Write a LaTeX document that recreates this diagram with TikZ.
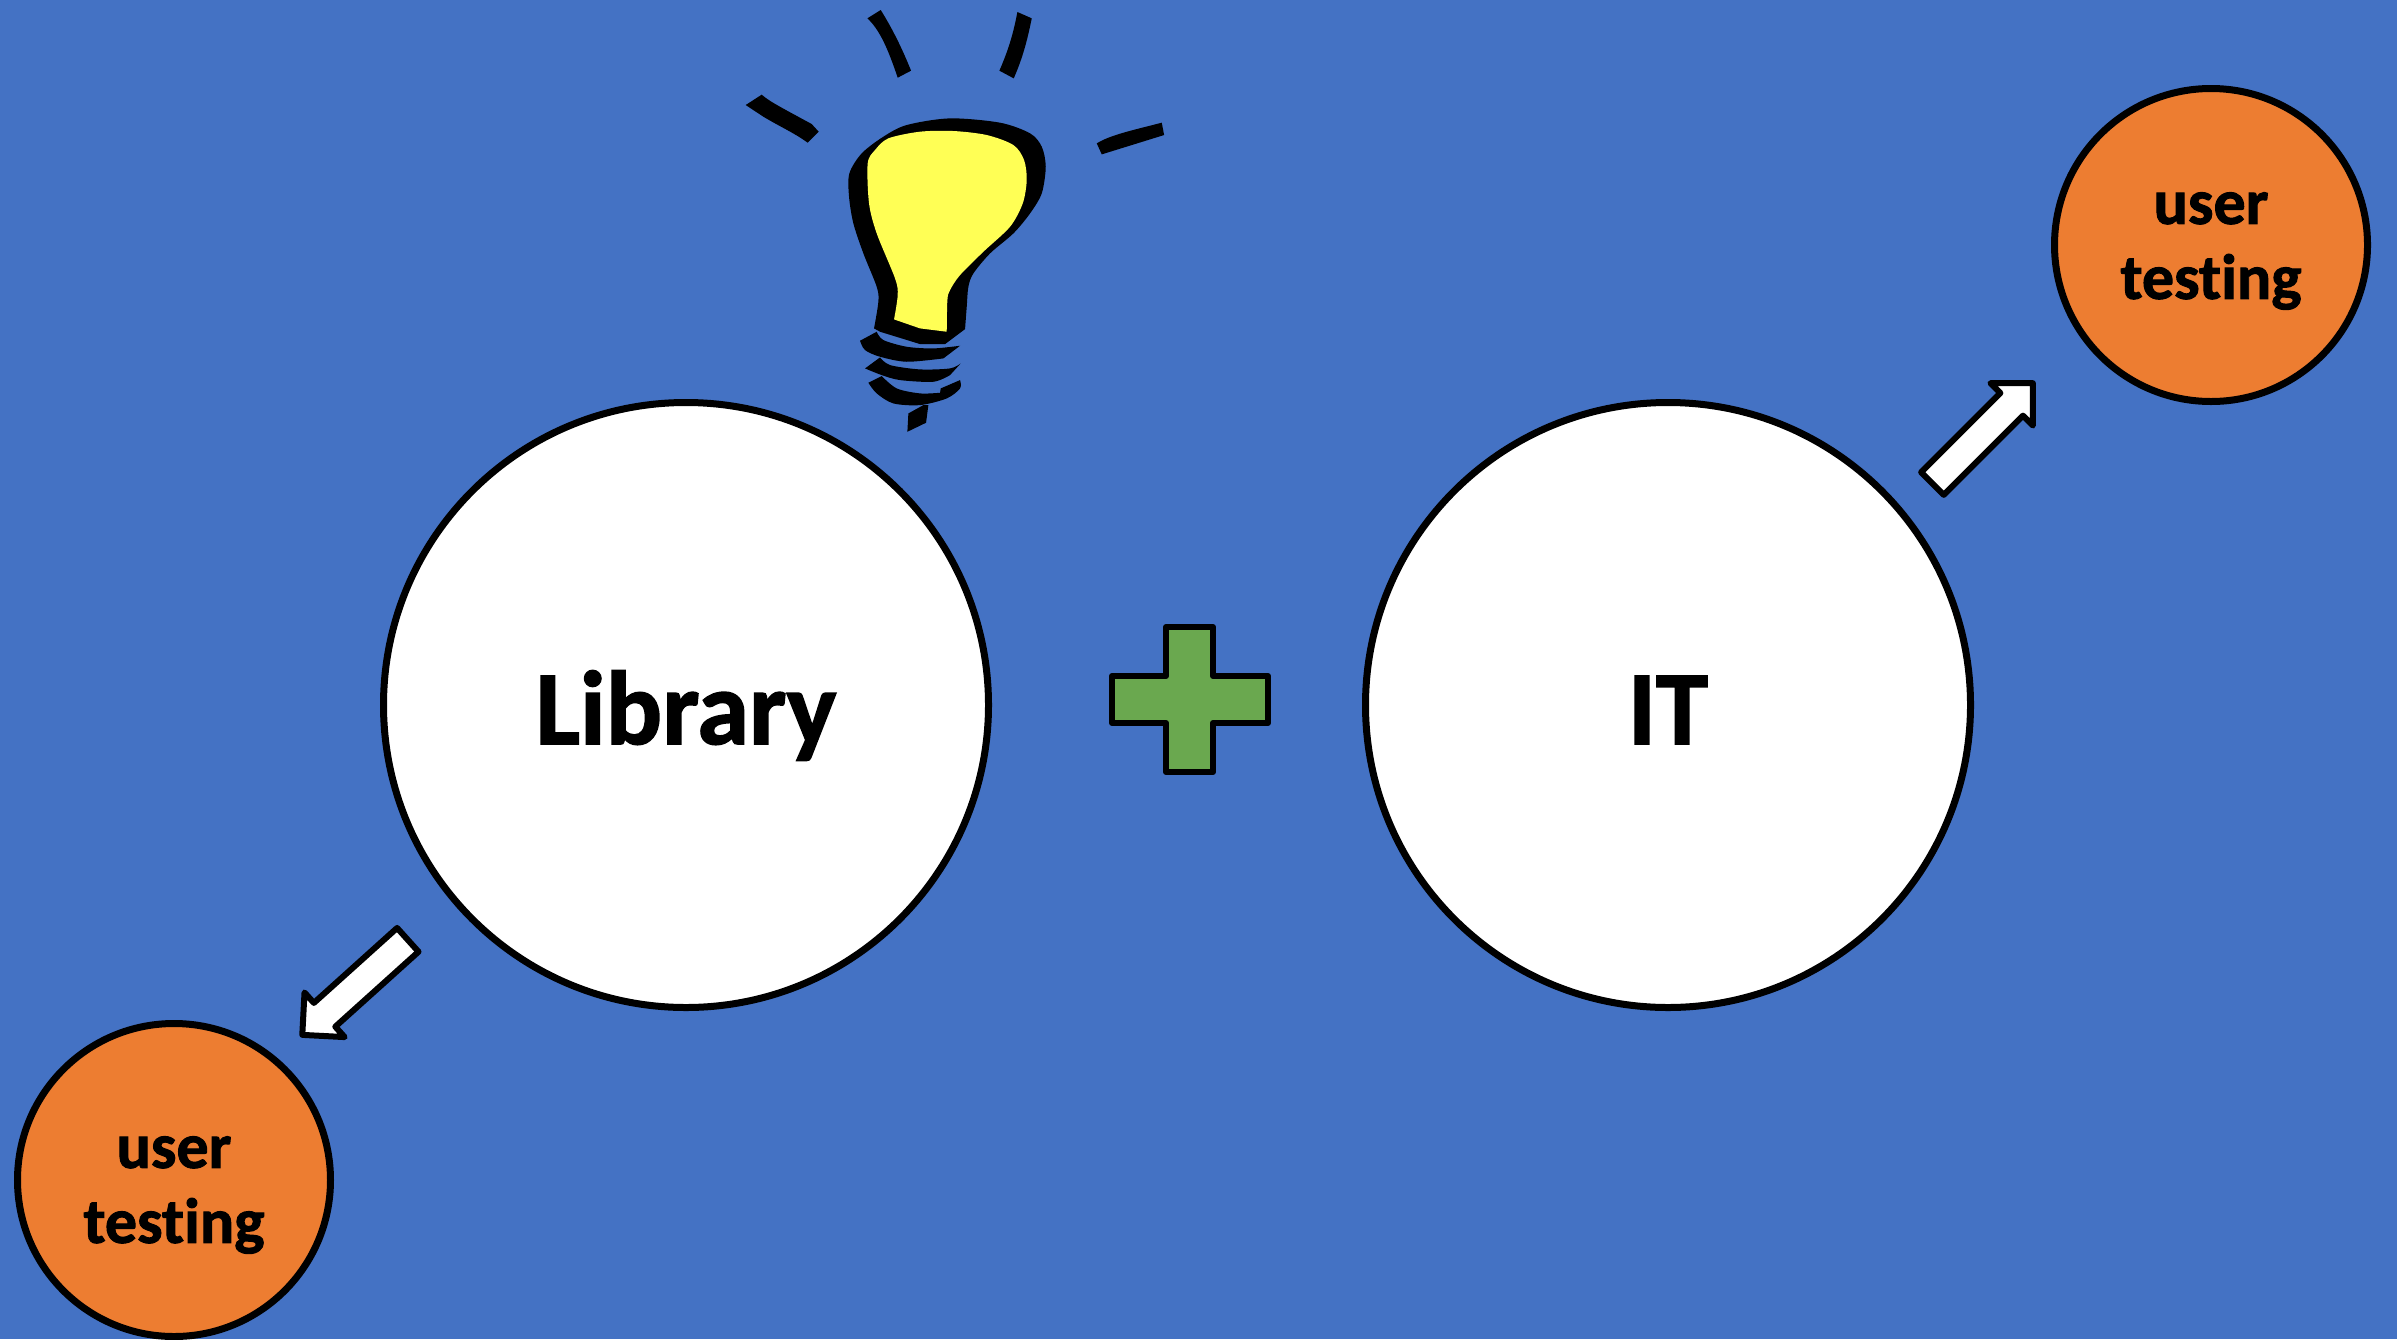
\documentclass[tikz,border=0pt]{standalone}
\usepackage{fontspec}
\setmainfont[Ligatures = NoCommon, BoldFeatures = {FakeBold = 1.5}]{Carlito}
\usetikzlibrary{shapes.arrows}
\definecolor{slide}{HTML}{4472C4}
\definecolor{tester}{HTML}{ED7D31}
\definecolor{joiner}{HTML}{6AA84F}
\definecolor{glow}{HTML}{FFFF55}
\tikzset{team/.style = {shape = circle, draw = black, fill = white, line width = 3.5pt, minimum size = 302.5pt, inner sep = 0pt, text height = 52pt, text depth = 13pt, font = \fontsize{52.5}{56}\selectfont\bfseries}}
\tikzset{usertest/.style = {shape = circle, draw = black, fill = tester, line width = 3.5pt, minimum size = 156.5pt}}
\tikzset{testlabel/.style = {align = center, inner sep = 0pt, font = \fontsize{32}{37.5}\selectfont\bfseries}}
\tikzset{blockarrow/.style = {shape = single arrow, draw = black, fill = white, line width = 3pt, line join = round, inner xsep = 0pt, inner ysep = 6.5pt, minimum height = 71pt, minimum width = 27.5pt, single arrow head extend = 7pt, single arrow tip angle = 90}}
\tikzset{ink/.style = {fill = black}}

\begin{document}
\begin{tikzpicture}[x = 0.5pt, y = -0.5pt]
	\fill[slide] (0, 0) rectangle (2397, 1339);
	\useasboundingbox (0, 0) rectangle (2397, 1339);

	\node[team] (library) at (686, 705) {Library};
	\node[team] (it) at (1668, 705) {IT};
	\node[usertest] (testright) at (2211, 245) {};
	\node[usertest] (testleft) at (174, 1180) {};
	\node[testlabel] (righttext) at (2211, 251) {user\\testing};
	\node[testlabel] (lefttext) at (174, 1195) {user\\testing};

	\node[blockarrow, rotate = 45] (arrowright) at (1977, 439) {};
	\node[blockarrow, rotate = 222] (arrowleft) at (361, 982) {};

	\draw[fill = joiner, line width = 3pt, line join = round] (1166, 627) -- (1213, 627) -- (1213, 676) -- (1268, 676) -- (1268, 723) -- (1213, 723) -- (1213, 772) -- (1166, 772) -- (1166, 723) -- (1112, 723) -- (1112, 676) -- (1166, 676) -- cycle;

	% bulb, in crop coordinates
	\begin{scope}[shift = {(720, 0)}, x = 0.1667pt, y = -0.1667pt]
		% rays
		\fill[ink] (77, 315) -- (125, 284) .. controls (150, 305) and (170, 315) .. (275, 372) -- (296, 395) -- (263, 428) .. controls (225, 400) and (180, 380) .. (130, 350) -- cycle;
		\fill[ink] (442, 55) -- (482, 30) .. controls (510, 75) and (540, 130) .. (573, 212) -- (533, 233) .. controls (505, 150) and (480, 90) .. (442, 55) -- cycle;
		\fill[ink] (892, 36) -- (935, 55) .. controls (920, 130) and (905, 180) .. (881, 235) -- (838, 212) .. controls (865, 150) and (880, 100) .. (892, 36) -- cycle;
		\fill[ink] (1130, 430) .. controls (1170, 405) and (1240, 390) .. (1325, 368) -- (1332, 405) -- (1145, 463) -- cycle;
		% glass
		\fill[ink] plot[smooth, tension = 0.5] coordinates {(462, 985) (475, 905) (470, 860) (430, 760) (400, 670) (387, 590) (388, 520) (425, 460) (490, 410) (560, 375) (690, 355) (840, 368) (930, 400) (965, 440) (977, 500) (965, 580) (930, 640) (880, 700) (810, 760) (760, 820) (745, 860) (740, 920) (735, 987)} -- (675, 1032) -- (600, 1032) -- (480, 995) -- cycle;
		\fill[glow] plot[smooth, tension = 0.5] coordinates {(522, 958) (533, 885) (525, 835) (470, 700) (447, 610) (443, 490) (465, 450) (505, 415) (600, 395) (700, 393) (800, 405) (880, 435) (912, 480) (920, 540) (908, 610) (870, 680) (790, 755) (720, 825) (690, 870) (682, 900) (680, 995)} -- (600, 985) -- cycle;
		% thread
		\fill[ink] plot[smooth, tension = 0.5] coordinates {(470, 995) (490, 1020) (560, 1040) (640, 1045) (720, 1037)} -- plot[smooth, tension = 0.5] coordinates {(670, 1075) (560, 1085) (480, 1070) (435, 1050) (420, 1022)} -- cycle;
		\fill[ink] plot[smooth, tension = 0.5] coordinates {(480, 1072) (510, 1095) (600, 1108) (690, 1105) (722, 1090)} -- plot[smooth, tension = 0.5] coordinates {(690, 1125) (640, 1145) (540, 1140) (485, 1125) (435, 1105)} -- cycle;
		\fill[ink] plot[smooth, tension = 0.5] coordinates {(485, 1128) (530, 1165) (600, 1180) (660, 1178)} -- (662, 1165) -- plot[smooth, tension = 0.5] coordinates {(720, 1140) (720, 1165) (680, 1195) (600, 1215) (520, 1210) (470, 1180) (445, 1148)} -- cycle;
		\fill[ink] (565, 1240) -- (610, 1215) -- (625, 1215) -- (618, 1268) -- (562, 1295) -- cycle;
	\end{scope}
\end{tikzpicture}
\end{document}
